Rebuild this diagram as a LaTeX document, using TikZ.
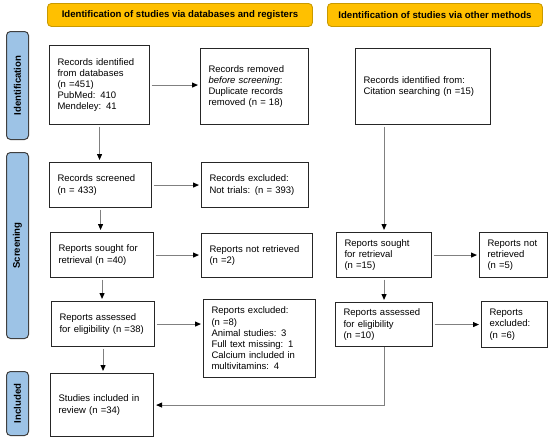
\documentclass[tikz,border=0pt]{standalone}
\usepackage{fontspec}
\setmainfont{Liberation Sans}
\usetikzlibrary{arrows.meta}
\definecolor{hdrfill}{HTML}{FFC000}
\definecolor{hdrdraw}{HTML}{C99A00}
\definecolor{sidefill}{HTML}{9DC3E6}
\definecolor{sidedraw}{HTML}{404040}
\definecolor{conn}{HTML}{808080}
\tikzset{
  hdr/.style={draw=hdrdraw, fill=hdrfill, line width=0.9pt, rounded corners=4pt, anchor=north west, inner sep=0pt, font=\fontsize{9.6}{11}\selectfont\bfseries},
  side/.style={draw=sidedraw, fill=sidefill, line width=1pt, rounded corners=4pt, anchor=north west, inner sep=0pt},
  sidetext/.style={font=\fontsize{9.6}{11}\selectfont\bfseries, rotate=90},
  box/.style={draw=black!85, line width=1.1pt, anchor=north west, inner xsep=8pt, inner ysep=2pt, align=left, font=\fontsize{9.5}{11.2}\selectfont},
  arr/.style={draw=conn, line width=1pt, -{Triangle[length=6pt,width=5pt,color=black]}, shorten <=1.5pt, shorten >=2pt},
}
\begin{document}
\begin{tikzpicture}[x=1pt,y=-1pt]
\useasboundingbox (0,0) rectangle (550,439);
% headers
\node[hdr, minimum width=265pt, minimum height=23pt] (h1) at (47,3) {Identification of studies via databases and registers};
\node[hdr, minimum width=215pt, minimum height=23pt] (h2) at (327,3) {Identification of studies via other methods};
% side labels
\node[side, minimum width=22pt, minimum height=108pt] (s1) at (6,31) {};
\node[sidetext] (s1t) at (s1.center) {Identification};
\node[side, minimum width=22pt, minimum height=186pt] (s2) at (6,152) {};
\node[sidetext] (s2t) at (s2.center) {Screening};
\node[side, minimum width=22pt, minimum height=64pt] (s3) at (6,371) {};
\node[sidetext] (s3t) at (s3.center) {Included};
% boxes
\node[box, minimum width=100pt, minimum height=79pt, text width=84pt] (b1) at (49,45) {Records identified\\from databases\\(n =451)\\PubMed: 410\\Mendeley: 41};
\node[box, minimum width=108pt, minimum height=76pt, text width=92pt] (b2) at (200,48) {Records removed\\\textit{before screening}:\\Duplicate records\\removed (n = 18)};
\node[box, minimum width=135pt, minimum height=76pt, text width=119pt] (b3) at (355,48) {Records identified from:\\Citation searching (n =15)};
\node[box, minimum width=102pt, minimum height=45pt, text width=86pt] (b4) at (49,162) {Records screened\\(n = 433)};
\node[box, minimum width=107pt, minimum height=45pt, text width=91pt] (b5) at (201,162) {Records excluded:\\Not trials: (n = 393)};
\node[box, minimum width=103pt, minimum height=45pt, text width=87pt] (b6) at (50,232) {Reports sought for\\retrieval (n =40)};
\node[box, minimum width=111pt, minimum height=44pt, text width=95pt] (b7) at (201,233) {Reports not retrieved\\(n =2)};
\node[box, minimum width=95pt, minimum height=45pt, text width=79pt] (b8) at (336,232) {Reports sought\\for retrieval\\(n =15)};
\node[box, minimum width=68pt, minimum height=45pt, text width=52pt] (b9) at (479,232) {Reports not\\retrieved\\(n =5)};
\node[box, minimum width=103pt, minimum height=45pt, text width=87pt] (b10) at (51,301) {Reports assessed\\for eligibility (n =38)};
\node[box, minimum width=112pt, minimum height=78pt, text width=96pt] (b11) at (203,299) {Reports excluded:\\(n =8)\\Animal studies: 3\\Full text missing: 1\\Calcium included in\\multivitamins: 4};
\node[box, minimum width=97pt, minimum height=44pt, text width=81pt] (b12) at (335,302) {Reports assessed\\for eligibility\\(n =10)};
\node[box, minimum width=66pt, minimum height=46pt, text width=50pt] (b13) at (481,301) {Reports\\excluded:\\(n =6)};
\node[box, minimum width=103pt, minimum height=63pt, text width=87pt] (b14) at (50,373) {Studies included in\\review (n =34)};
% connectors
\draw[arr] (b1.east) -- (b1.east -| b2.west);
\draw[arr] (b1.south) -- (b1.south |- b4.north);
\draw[arr] (b4.east) -- (b4.east -| b5.west);
\draw[arr] (b4.south) -- (b4.south |- b6.north);
\draw[arr] (b6.east) -- (b6.east -| b7.west);
\draw[arr] (b6.south) -- (b6.south |- b10.north);
\draw[arr] (b10.east) -- (b10.east -| b11.west);
\draw[arr] (b10.south) -- (b10.south |- b14.north);
\draw[arr] (b8.north |- b3.south) -- (b8.north);
\draw[arr] (b8.east) -- (b8.east -| b9.west);
\draw[arr] (b8.south) -- (b8.south |- b12.north);
\draw[arr] (b12.east) -- (b12.east -| b13.west);
\draw[arr, shorten <=0pt] (b12.south) |- (b14.east);
\end{tikzpicture}
\end{document}
